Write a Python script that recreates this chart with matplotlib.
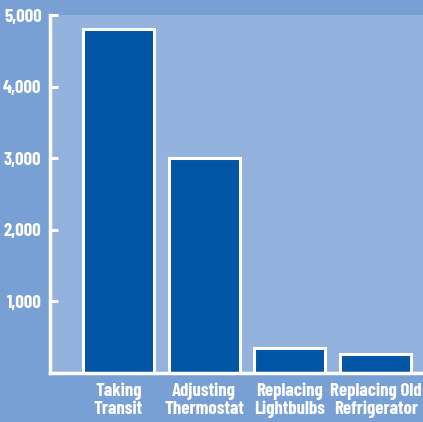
import matplotlib
matplotlib.use("Agg")
import matplotlib.pyplot as plt
from matplotlib import font_manager

categories = ["Taking\nTransit", "Adjusting\nThermostat", "Replacing\nLightbulbs", "Replacing Old\nRefrigerator"]
values = [4800, 3000, 350, 270]
yticks = [1000, 2000, 3000, 4000, 5000]
ytick_labels = ["1,000", "2,000", "3,000", "4,000", "5,000"]

names = {f.name for f in font_manager.fontManager.ttflist}
fam = "DejaVu Sans"
for cand in ["Barlow Condensed", "Asap Condensed", "Roboto Condensed", "PT Sans Narrow"]:
    if cand in names:
        fam = cand
        break

W, H = 423, 422
fig = plt.figure(figsize=(W/100, H/100), dpi=100, facecolor="#79a0d4")
ax = fig.add_axes([50/W, 1-373/H, (423-50)/W, (373-15)/H])
ax.set_facecolor("#94b2de")

x = list(range(len(values)))
ax.bar(x, values, width=0.826, color="#0055a5", edgecolor="white", linewidth=2.2, zorder=3)
ax.set_xlim(-0.797, 3.552)
ax.set_ylim(0, 5000)

for s in ["top", "right"]:
    ax.spines[s].set_visible(False)
for s in ["left", "bottom"]:
    ax.spines[s].set_color("white")
    ax.spines[s].set_linewidth(2.5)
    ax.spines[s].set_zorder(4)

ax.set_yticks(yticks)
ax.set_yticklabels(ytick_labels, fontfamily=fam, fontweight="bold", fontsize=13.5, color="white")
ax.tick_params(axis="y", direction="in", length=6, width=2.2, color="white", pad=6)
ax.set_xticks(x)
ax.set_xticklabels(categories, fontfamily=fam, fontweight="bold", fontsize=13.5, color="white", linespacing=1.05)
ax.tick_params(axis="x", length=0, pad=7)

fig.savefig("out.png", dpi=100, facecolor=fig.get_facecolor())
